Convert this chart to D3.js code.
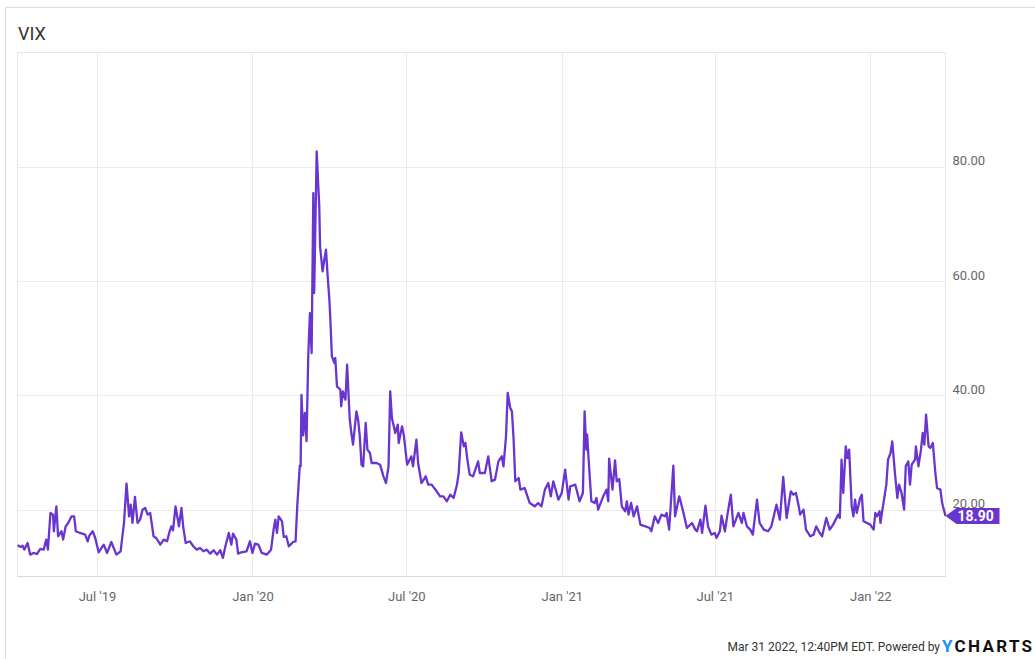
<!DOCTYPE html>
<html>
<head>
<meta charset="utf-8">
<script src="https://cdn.jsdelivr.net/npm/d3@7"></script>
<style>
  html, body { margin: 0; padding: 0; background: #fff; }
  svg { display: block; font-family: Roboto, "Noto Sans", sans-serif; }
</style>
</head>
<body>
<div id="chart-container"></div>
<script>
// VIX, daily closes (Mar 2019 – Mar 2022)
const dates = [
  "2019-03-29","2019-04-02","2019-04-04","2019-04-06","2019-04-10","2019-04-13","2019-04-17","2019-04-21","2019-04-25","2019-04-29",
  "2019-05-02","2019-05-04","2019-05-07","2019-05-10","2019-05-11","2019-05-14","2019-05-16","2019-05-20","2019-05-22","2019-05-25",
  "2019-05-28","2019-06-01","2019-06-04","2019-06-06","2019-06-11","2019-06-17","2019-06-20","2019-06-22","2019-06-26","2019-06-29",
  "2019-07-03","2019-07-09","2019-07-13","2019-07-18","2019-07-24","2019-07-29","2019-08-02","2019-08-05","2019-08-08","2019-08-10",
  "2019-08-12","2019-08-15","2019-08-18","2019-08-21","2019-08-24","2019-08-27","2019-08-30","2019-09-02","2019-09-06","2019-09-09",
  "2019-09-14","2019-09-18","2019-09-22","2019-09-25","2019-09-27","2019-09-29","2019-10-02","2019-10-06","2019-10-09","2019-10-11",
  "2019-10-14","2019-10-19","2019-10-23","2019-10-27","2019-10-31","2019-11-04","2019-11-08","2019-11-12","2019-11-16","2019-11-20",
  "2019-11-24","2019-11-27","2019-11-30","2019-12-04","2019-12-07","2019-12-09","2019-12-13","2019-12-15","2019-12-19","2019-12-25",
  "2019-12-29","2020-01-01","2020-01-04","2020-01-08","2020-01-12","2020-01-18","2020-01-23","2020-01-26","2020-01-28","2020-01-30",
  "2020-02-01","2020-02-05","2020-02-07","2020-02-10","2020-02-13","2020-02-15","2020-02-18","2020-02-21","2020-02-23","2020-02-26",
  "2020-02-27","2020-02-28","2020-03-01","2020-03-03","2020-03-05","2020-03-07","2020-03-09","2020-03-11","2020-03-13","2020-03-14",
  "2020-03-17","2020-03-19","2020-03-20","2020-03-21","2020-03-24","2020-03-26","2020-03-28","2020-03-30","2020-04-01","2020-04-02",
  "2020-04-04","2020-04-07","2020-04-08","2020-04-10","2020-04-14","2020-04-15","2020-04-17","2020-04-20","2020-04-22","2020-04-25",
  "2020-04-27","2020-04-29","2020-05-03","2020-05-05","2020-05-07","2020-05-09","2020-05-11","2020-05-14","2020-05-16","2020-05-19",
  "2020-05-21","2020-05-27","2020-05-31","2020-06-04","2020-06-07","2020-06-10","2020-06-12","2020-06-14","2020-06-18","2020-06-21",
  "2020-06-22","2020-06-26","2020-06-28","2020-07-02","2020-07-07","2020-07-09","2020-07-13","2020-07-15","2020-07-19","2020-07-24",
  "2020-07-27","2020-07-31","2020-08-06","2020-08-10","2020-08-14","2020-08-18","2020-08-22","2020-08-26","2020-08-30","2020-09-01",
  "2020-09-04","2020-09-07","2020-09-09","2020-09-11","2020-09-14","2020-09-18","2020-09-24","2020-09-26","2020-10-02","2020-10-06",
  "2020-10-10","2020-10-14","2020-10-18","2020-10-22","2020-10-24","2020-10-27","2020-10-29","2020-11-01","2020-11-03","2020-11-05",
  "2020-11-07","2020-11-11","2020-11-13","2020-11-18","2020-11-24","2020-11-30","2020-12-04","2020-12-08","2020-12-12","2020-12-16",
  "2020-12-19","2020-12-22","2020-12-28","2021-01-01","2021-01-05","2021-01-09","2021-01-11","2021-01-17","2021-01-22","2021-01-26",
  "2021-01-28","2021-01-30","2021-01-31","2021-02-01","2021-02-05","2021-02-09","2021-02-11","2021-02-13","2021-02-19","2021-02-23",
  "2021-02-25","2021-02-26","2021-03-02","2021-03-05","2021-03-07","2021-03-10","2021-03-13","2021-03-17","2021-03-19","2021-03-21",
  "2021-03-24","2021-03-27","2021-03-31","2021-04-04","2021-04-10","2021-04-15","2021-04-17","2021-04-21","2021-04-25","2021-04-29",
  "2021-05-03","2021-05-05","2021-05-08","2021-05-13","2021-05-15","2021-05-20","2021-05-25","2021-05-29","2021-06-04","2021-06-08",
  "2021-06-10","2021-06-14","2021-06-16","2021-06-20","2021-06-23","2021-06-27","2021-07-01","2021-07-03","2021-07-07","2021-07-09",
  "2021-07-13","2021-07-16","2021-07-20","2021-07-23","2021-07-29","2021-08-02","2021-08-04","2021-08-08","2021-08-12","2021-08-15",
  "2021-08-20","2021-08-23","2021-08-28","2021-09-02","2021-09-06","2021-09-12","2021-09-16","2021-09-20","2021-09-24","2021-09-29",
  "2021-10-02","2021-10-05","2021-10-08","2021-10-10","2021-10-14","2021-10-17","2021-10-22","2021-10-26","2021-10-29","2021-11-01",
  "2021-11-05","2021-11-10","2021-11-14","2021-11-18","2021-11-24","2021-11-26","2021-11-28","2021-11-30","2021-12-03","2021-12-05",
  "2021-12-07","2021-12-10","2021-12-12","2021-12-14","2021-12-16","2021-12-20","2021-12-22","2021-12-24","2022-01-01","2022-01-05",
  "2022-01-07","2022-01-09","2022-01-12","2022-01-13","2022-01-16","2022-01-20","2022-01-22","2022-01-25","2022-01-27","2022-01-30",
  "2022-02-02","2022-02-04","2022-02-07","2022-02-10","2022-02-12","2022-02-15","2022-02-17","2022-02-19","2022-02-23","2022-02-24",
  "2022-02-27","2022-03-02","2022-03-04","2022-03-06","2022-03-08","2022-03-11","2022-03-13","2022-03-16","2022-03-19","2022-03-21",
  "2022-03-25","2022-03-27","2022-03-28","2022-03-31"
];

const vix = [
  13.76,13.47,13.70,13.00,14.17,12.13,12.42,12.24,13.12,13.00,
  14.75,13.00,19.42,19.13,16.21,20.58,15.34,16.21,14.75,17.08,
  17.67,18.83,18.83,16.21,15.92,15.63,14.46,15.45,16.21,15.04,
  12.54,13.88,12.42,14.34,12.13,12.71,17.67,24.55,18.83,20.87,
  17.67,22.22,17.67,18.25,20.00,20.29,19.13,19.42,15.34,15.04,
  13.88,14.75,14.46,16.21,17.08,16.38,20.58,17.08,20.29,17.08,
  14.17,14.46,13.59,13.00,13.29,12.71,13.00,12.30,12.89,12.13,
  12.89,11.55,13.59,15.92,13.88,15.80,14.75,12.30,12.54,12.71,
  14.46,12.42,14.05,13.88,12.42,12.13,13.00,16.50,18.25,15.92,
  18.83,17.96,15.22,15.34,13.59,13.88,14.34,14.46,20.58,27.70,
  27.58,40.10,33.00,36.91,32.00,46.82,54.40,47.41,75.39,57.90,
  82.68,76.27,73.35,66.06,61.69,63.73,65.48,60.82,56.73,53.82,
  46.82,45.66,46.53,41.57,40.99,38.08,40.70,39.24,45.36,36.03,
  33.41,31.37,37.20,35.74,32.83,27.87,27.58,35.16,30.50,29.91,
  28.16,28.16,27.87,25.83,24.66,27.58,40.70,36.03,33.41,34.87,
  31.66,34.58,33.12,27.87,29.33,27.58,32.24,28.16,24.66,25.83,
  24.37,24.37,23.21,22.33,22.33,21.46,22.62,22.04,24.37,26.41,
  33.53,31.08,31.66,29.04,26.12,25.83,28.45,26.41,26.41,29.33,
  24.96,25.25,28.45,29.33,27.58,32.83,40.41,37.78,37.20,32.24,
  24.96,25.54,23.50,23.79,21.17,20.58,21.17,20.58,23.50,24.66,
  22.33,24.96,21.75,22.92,27.00,21.75,24.08,24.37,21.46,22.92,
  37.20,30.50,33.12,30.50,21.46,21.17,22.04,20.00,22.33,23.50,
  21.46,28.92,23.50,28.63,24.96,25.36,20.58,19.71,21.46,19.13,
  21.17,18.83,20.58,17.38,17.08,16.79,16.21,18.83,17.67,19.13,
  18.83,19.42,16.50,27.70,18.83,22.33,19.42,16.79,17.67,16.50,
  16.21,18.25,15.92,20.70,17.08,15.63,15.92,15.04,16.21,18.95,
  16.21,19.13,22.62,17.08,19.42,17.67,19.42,17.08,16.50,15.63,
  21.75,17.67,16.50,16.21,17.08,20.87,18.25,25.71,18.54,23.21,
  22.62,22.92,20.87,19.13,20.00,16.50,15.34,15.63,17.08,16.21,
  15.34,18.54,16.50,17.38,19.13,18.54,28.75,22.92,31.08,29.04,
  30.50,20.58,18.83,21.75,19.42,22.04,22.62,17.96,17.38,16.50,
  19.42,18.83,19.71,17.67,20.58,24.37,28.75,29.91,31.95,26.71,
  22.04,24.37,22.92,20.00,27.58,28.45,24.37,27.87,28.75,31.08,
  27.58,30.50,33.41,31.37,36.62,31.08,30.79,31.66,26.41,23.79,
  23.50,21.20,20.58,18.90
];

const yTicks = [20, 40, 60, 80];
const xTicks = ["2019-07-01","2020-01-01","2020-07-01","2021-01-01","2021-07-01","2022-01-01"];
const title = "VIX";
const footerText = "Mar 31 2022, 12:40PM EDT. Powered by";

const width = 1035, height = 659;
const plot = {left: 17.5, top: 52.5, right: 945.5, bottom: 576.5};
const purple = "#6935d0";

const parse = d3.utcParse("%Y-%m-%d");
const data = dates.map((d, i) => ({date: parse(d), value: vix[i]}));

const svg = d3.select("#chart-container")
  .append("svg")
  .attr("width", width)
  .attr("height", height);

// outer frame
svg.append("path")
  .attr("d", `M5.5,${height} V7.5 H${width}`)
  .attr("fill", "none")
  .attr("stroke", "#dedede");

svg.append("text")
  .attr("x", 18)
  .attr("y", 40)
  .style("font-size", "18px")
  .attr("fill", "#333")
  .text(title);

// scales
const x = d3.scaleUtc()
  .domain([parse("2019-03-29"), parse("2022-03-31")])
  .range([plot.left, plot.right]);

const y = d3.scaleLinear()
  .domain([8.3, 100])
  .range([plot.bottom, plot.top]);

// gridlines
const grid = svg.append("g");
grid.selectAll("line.h")
  .data(yTicks)
  .join("line")
    .attr("class", "h")
    .attr("x1", plot.left).attr("x2", plot.right)
    .attr("y1", d => Math.round(y(d)) + 0.5).attr("y2", d => Math.round(y(d)) + 0.5)
    .attr("stroke", "#ebebeb");

grid.selectAll("line.v")
  .data(xTicks)
  .join("line")
    .attr("class", "v")
    .attr("x1", d => Math.round(x(parse(d))) + 0.5).attr("x2", d => Math.round(x(parse(d))) + 0.5)
    .attr("y1", plot.top).attr("y2", plot.bottom)
    .attr("stroke", "#ebebeb");

// plot frame
svg.append("rect")
  .attr("x", plot.left).attr("y", plot.top)
  .attr("width", plot.right - plot.left)
  .attr("height", plot.bottom - plot.top)
  .attr("fill", "none")
  .attr("stroke", "#e6e6e6");

svg.append("line")
  .attr("x1", plot.left).attr("x2", plot.right)
  .attr("y1", plot.bottom).attr("y2", plot.bottom)
  .attr("stroke", "#d9d9d9");

// axes (labels only)
const xAxis = d3.axisBottom(x)
  .tickValues(xTicks.map(parse))
  .tickSize(0)
  .tickPadding(15)
  .tickFormat(d3.utcFormat("%b '%y"));

svg.append("g")
  .attr("transform", `translate(0,${plot.bottom})`)
  .call(xAxis)
  .call(g => g.select(".domain").remove())
  .selectAll("text")
    .style("font-size", "13px")
    .style("font-family", "Roboto, sans-serif")
    .attr("fill", "#666");

const yAxis = d3.axisRight(y)
  .tickValues(yTicks)
  .tickSize(0)
  .tickPadding(7)
  .tickFormat(d3.format(".2f"));

svg.append("g")
  .attr("transform", `translate(${plot.right},0)`)
  .call(yAxis)
  .call(g => g.select(".domain").remove())
  .selectAll("text")
    .attr("dy", "-0.15em")
    .style("font-size", "13px")
    .style("font-family", "Roboto, sans-serif")
    .attr("fill", "#666");

// line
const line = d3.line()
  .x(d => x(d.date))
  .y(d => y(d.value));

svg.append("path")
  .datum(data)
  .attr("d", line)
  .attr("fill", "none")
  .attr("stroke", purple)
  .attr("stroke-width", 2.3)
  .attr("stroke-linejoin", "round");

// last value flag (sits over the 20.00 label, as in the original)
const last = data[data.length - 1];
const lx = x(last.date), ly = y(last.value);
const flag = svg.append("g").attr("transform", `translate(${lx},${ly})`);
flag.append("path")
  .attr("d", "M0,0 L11,-8 H54 V8 H11 Z")
  .attr("fill", purple);
flag.append("text")
  .attr("x", 12)
  .attr("y", 5)
  .attr("fill", "#fff")
  .style("font-size", "14px")
  .style("font-weight", "bold")
  .text(d3.format(".2f")(last.value));

// footer
const footer = svg.append("g");
footer.append("text")
  .attr("x", 940)
  .attr("y", 651)
  .attr("text-anchor", "end")
  .attr("fill", "#333")
  .style("font-size", "12px")
  .text(footerText);

const logo = footer.append("text")
  .attr("x", 942)
  .attr("y", 652)
  .style("font-size", "17px")
  .style("font-weight", "bold")
  .style("letter-spacing", "2.3px")
  .style("font-family", "Roboto, Arial, sans-serif");
logo.append("tspan").attr("fill", "#1e8ef0").text("Y");
logo.append("tspan").attr("fill", "#111").text("CHARTS");
</script>
</body>
</html>
